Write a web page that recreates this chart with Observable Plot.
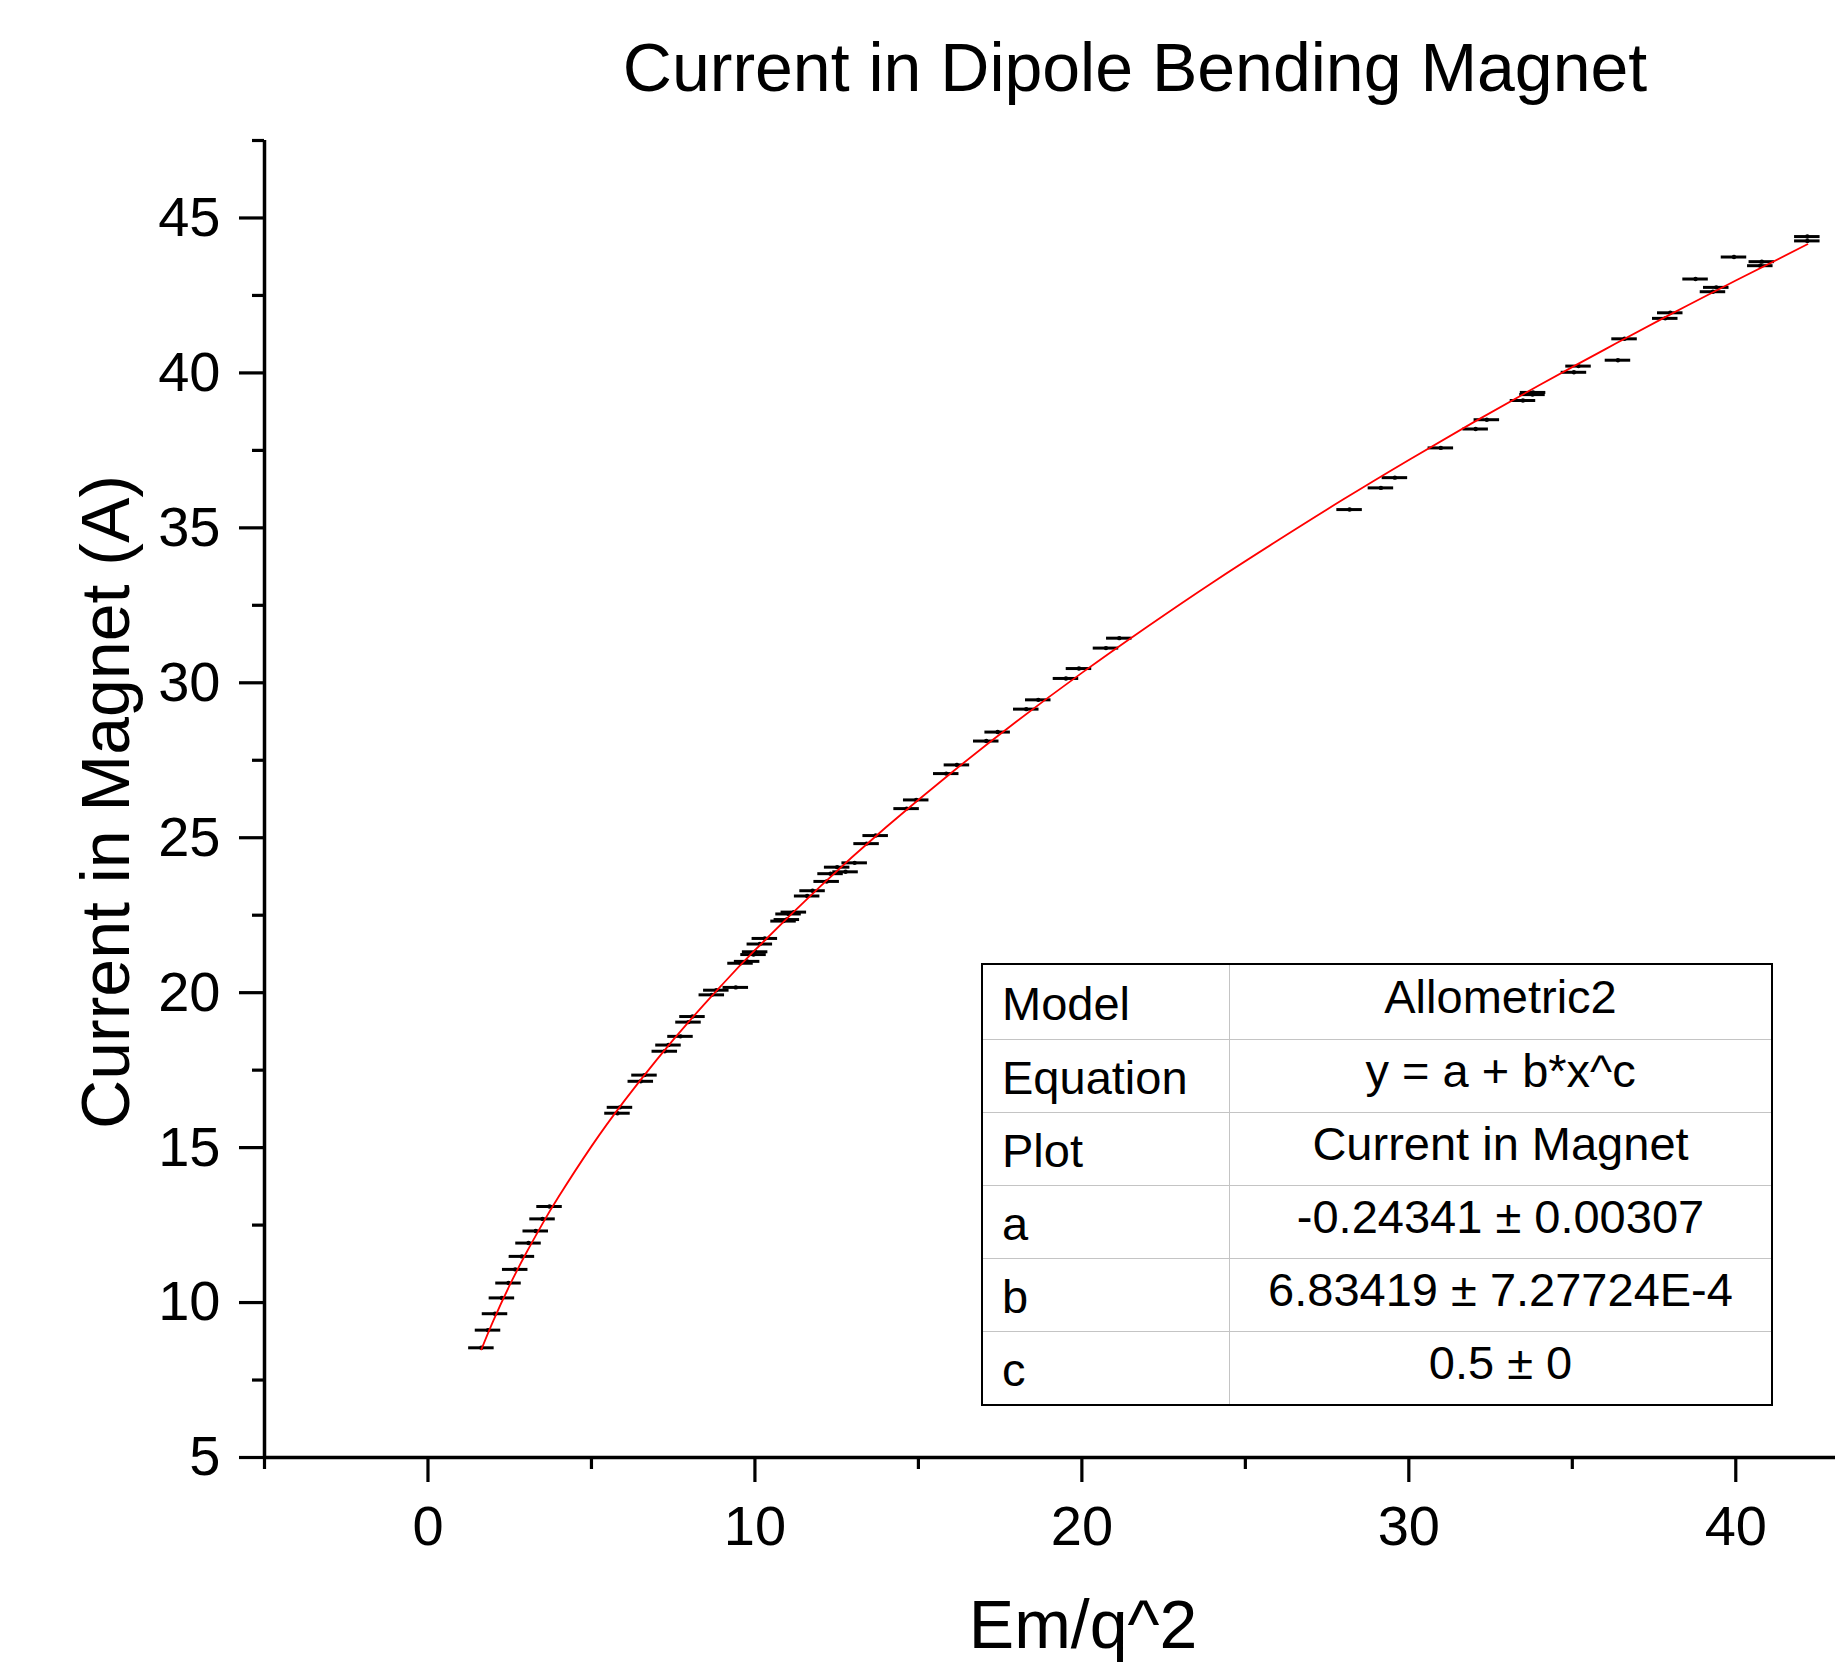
<!DOCTYPE html>
<html>
<head>
<meta charset="utf-8">
<script src="https://cdn.jsdelivr.net/npm/d3@7"></script>
<script src="https://cdn.jsdelivr.net/npm/@observablehq/plot@0.6"></script>
<style>
  html, body { margin: 0; padding: 0; background: #fff; }
  #wrap { position: relative; width: 1835px; height: 1662px; font-family: "Liberation Sans", Arial, sans-serif; }
  #wrap svg { display: block; }
  #fit { position: absolute; left: 981px; top: 963px; width: 792px;
         border-collapse: collapse; border: 2px solid #000; font-size: 47px; color: #000;
         font-family: "Liberation Sans", Arial, sans-serif; }
  #fit td { border: 1.5px solid #c4c4c4; padding: 0; height: 72px; white-space: nowrap; }
  #fit tr:first-child td { height: 74px; }
  #fit td.k { width: 227px; padding-left: 19px; text-align: left; }
  #fit td.k span { position: relative; top: 1px; }
  #fit td.v { text-align: center; }
  #fit td.v span { position: relative; top: -6px; }
</style>
</head>
<body>
<div id="wrap"></div>
<script>
// ---- data ----
const emq = [
  1.634, 1.836, 2.050, 2.261, 2.463, 2.668, 2.873, 3.075, 3.296, 3.504, 3.718,
  5.796, 5.872, 6.509, 6.622, 7.243, 7.356, 7.723, 7.968, 8.090, 8.681, 8.819, 9.415,
  9.559, 9.761, 9.957, 10.006, 10.150, 10.303, 10.875, 10.976, 11.028, 11.190,
  11.597, 11.763, 12.194, 12.313, 12.515, 12.772, 13.051, 13.415, 13.693,
  14.639, 14.933, 15.851, 16.178, 17.075, 17.424, 18.299, 18.666, 19.513, 19.911, 20.737, 21.144,
  28.188, 29.146, 29.574, 30.979, 32.044, 32.386, 33.491, 33.782, 33.800,
  35.050, 35.190, 36.396, 36.598, 37.843, 37.996, 38.770, 39.302, 39.403, 39.945,
  40.750, 40.796, 42.188, 42.188
];
const current = [
  8.54, 9.11, 9.64, 10.15, 10.63, 11.07, 11.49, 11.92, 12.31, 12.70, 13.10,
  16.11, 16.30, 17.14, 17.34, 18.11, 18.31, 18.59, 19.05, 19.23, 19.93, 20.08, 20.17,
  20.95, 21.01, 21.23, 21.32, 21.57, 21.75, 22.31, 22.36, 22.54, 22.60,
  23.12, 23.29, 23.59, 23.84, 24.05, 23.90, 24.19, 24.81, 25.07,
  25.94, 26.22, 27.07, 27.35, 28.12, 28.41, 29.15, 29.45, 30.14, 30.46, 31.12, 31.44,
  35.59, 36.29, 36.62, 37.58, 38.19, 38.49, 39.11, 39.30, 39.37,
  40.02, 40.22, 40.41, 41.10, 41.76, 41.94, 43.03, 42.62, 42.76, 43.74,
  43.46, 43.59, 44.26, 44.40
];
const xError = 0.39;

// fitted curve (Allometric2) points
const fitX = [1.634, 2, 2.5, 3, 3.5, 4, 5, 6, 7, 8, 9, 10, 12, 14, 16, 18, 20, 22, 24, 26, 28, 30, 32, 34, 36, 38, 40, 42.19];
const fitY = [8.49, 9.42, 10.56, 11.59, 12.54, 13.42, 15.04, 16.50, 17.84, 19.09, 20.26, 21.37, 23.43, 25.33, 27.09, 28.75, 30.32, 31.81, 33.24, 34.60, 35.92, 37.19, 38.42, 39.61, 40.76, 41.89, 42.98, 44.15];

const yMajor = [5, 10, 15, 20, 25, 30, 35, 40, 45];
const yMinor = [7.5, 12.5, 17.5, 22.5, 27.5, 32.5, 37.5, 42.5, 47.5];
const xMajor = [0, 10, 20, 30, 40];
const xMinor = [-5, 5, 15, 25, 35];

const title = "Current in Dipole Bending Magnet";
const xLabel = "Em/q^2";
const yLabel = "Current in Magnet (A)";

const tableKeys = ["Model", "Equation", "Plot", "a", "b", "c"];
const tableValues = ["Allometric2", "y = a + b*x^c", "Current in Magnet", "-0.24341 ± 0.00307", "6.83419 ± 7.27724E-4", "0.5 ± 0"];

// ---- build ----
const points = emq.map((x, i) => ({x, y: current[i]}));
const fit = fitX.map((x, i) => ({x, y: fitY[i]}));
const font = '"Liberation Sans", Arial, sans-serif';

const chart = Plot.plot({
  width: 1835,
  height: 1662,
  marginLeft: 264,
  marginRight: 0,
  marginTop: 140,
  marginBottom: 205,
  style: {fontFamily: font, color: "black", background: "white", overflow: "visible"},
  x: {domain: [-5, 43.05]},
  y: {domain: [5, 47.5]},
  marks: [
    Plot.ruleX([-5], {stroke: "black", strokeWidth: 3.5}),
    Plot.ruleY([5], {stroke: "black", strokeWidth: 3.5}),
    Plot.axisY(yMajor, {tickSize: 25, tickPadding: 19, fontSize: 56, strokeWidth: 3.2, label: null, tickFormat: d => String(d)}),
    Plot.axisY(yMinor, {tickSize: 12, text: null, strokeWidth: 3.2, label: null}),
    Plot.axisX(xMajor, {tickSize: 25, tickPadding: 23, fontSize: 56, strokeWidth: 3.2, label: null, tickFormat: d => String(d)}),
    Plot.axisX(xMinor, {tickSize: 12, text: null, strokeWidth: 3.2, label: null}),
    Plot.ruleY(points, {y: "y", x1: d => d.x - xError, x2: d => d.x + xError, stroke: "black", strokeWidth: 3}),
    Plot.dot(points, {x: "x", y: "y", r: 2.2, fill: "black", stroke: null}),
    Plot.line(fit, {x: "x", y: "y", stroke: "#ff0000", strokeWidth: 1.8, curve: "natural"}),
    Plot.text([title], {frameAnchor: "top", lineAnchor: "middle", textAnchor: "middle", dx: 85, dy: -71, fontSize: 68, fill: "black"}),
    Plot.text([yLabel], {frameAnchor: "left", lineAnchor: "middle", textAnchor: "middle", rotate: -90, dx: -157, dy: 3, fontSize: 68, fill: "black"}),
    Plot.text([xLabel], {frameAnchor: "bottom", lineAnchor: "middle", textAnchor: "middle", dx: 33, dy: 169, fontSize: 68, fill: "black"})
  ]
});

const wrap = document.getElementById("wrap");
wrap.appendChild(chart);

const table = document.createElement("table");
table.id = "fit";
tableKeys.forEach((k, i) => {
  const tr = document.createElement("tr");
  const td1 = document.createElement("td");
  td1.className = "k";
  const sp1 = document.createElement("span");
  sp1.textContent = k;
  td1.appendChild(sp1);
  const td2 = document.createElement("td");
  td2.className = "v";
  const sp = document.createElement("span");
  sp.textContent = tableValues[i];
  td2.appendChild(sp);
  tr.appendChild(td1);
  tr.appendChild(td2);
  table.appendChild(tr);
});
wrap.appendChild(table);
</script>
</body>
</html>
